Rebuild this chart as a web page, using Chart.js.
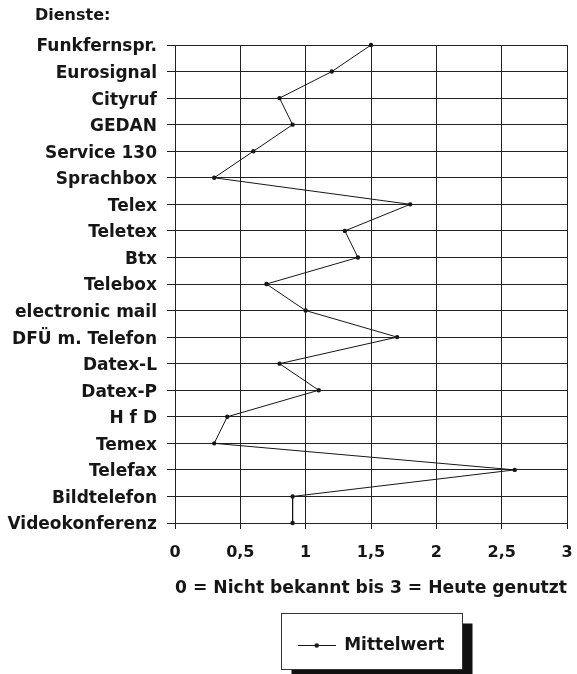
<!DOCTYPE html>
<html lang="de">
<head>
<meta charset="utf-8">
<title>Dienste</title>
<script src="https://cdn.jsdelivr.net/npm/chart.js@4.4.1/dist/chart.umd.min.js"></script>
<style>
    html, body { margin: 0; padding: 0; background: #fff; }
    #chart { display: block; }
</style>
</head>
<body>
<canvas id="chart" width="577" height="674"></canvas>
<script>
// Daten
const dienste = ['Funkfernspr.', 'Eurosignal', 'Cityruf', 'GEDAN', 'Service 130', 'Sprachbox', 'Telex', 'Teletex', 'Btx', 'Telebox',
    'electronic mail', 'DFÜ m. Telefon', 'Datex-L', 'Datex-P', 'H f D', 'Temex', 'Telefax', 'Bildtelefon', 'Videokonferenz'];
const mittelwert = [1.5, 1.2, 0.8, 0.9, 0.6, 0.3, 1.8, 1.3, 1.4, 0.7, 1.0, 1.7, 0.8, 1.1, 0.4, 0.3, 2.6, 0.9, 0.9];
const skala = [0, 0.5, 1, 1.5, 2, 2.5, 3];

const schrift = 'DejaVu Sans';
const tinte = '#161616';

// Legendensymbol: Linie mit Punkt
function legendenSymbol() {
    const c = document.createElement('canvas');
    c.width = 38; c.height = 7;
    const g = c.getContext('2d');
    g.strokeStyle = tinte; g.lineWidth = 1;
    g.beginPath(); g.moveTo(0, 3.5); g.lineTo(38, 3.5); g.stroke();
    g.fillStyle = tinte;
    g.beginPath(); g.arc(19, 3.5, 2.2, 0, Math.PI * 2); g.fill();
    return c;
}

// Überschrift links oben
const ueberschrift = {
    id: 'ueberschrift',
    afterDraw(chart) {
        const ctx = chart.ctx;
        ctx.save();
        ctx.font = `bold 16px "${schrift}"`;
        ctx.fillStyle = tinte;
        ctx.textBaseline = 'middle';
        ctx.fillText('Dienste:', 35, 16);
        ctx.restore();
    }
};

// Rahmen mit Schatten um die Legende
const legendenRahmen = {
    id: 'legendenRahmen',
    beforeDraw(chart) {
        const hb = chart.legend && chart.legend.legendHitBoxes[0];
        if (!hb) return;
        const ctx = chart.ctx;
        const cx = hb.left + hb.width / 2;
        const cy = hb.top + hb.height / 2;
        const w = 181, h = 56;
        const x = Math.round(cx - w / 2) + 0.5, y = Math.round(cy - h / 2 - 5) + 0.5;
        ctx.save();
        ctx.fillStyle = '#111';
        ctx.fillRect(x + 10, y + 10, w, h);
        ctx.fillStyle = '#fff';
        ctx.fillRect(x, y, w, h);
        ctx.strokeStyle = '#333';
        ctx.lineWidth = 1;
        ctx.strokeRect(x, y, w, h);
        ctx.restore();
    }
};

new Chart(document.getElementById('chart'), {
    type: 'line',
    data: {
        labels: dienste,
        datasets: [{
            label: 'Mittelwert',
            data: mittelwert,
            borderColor: tinte,
            backgroundColor: tinte,
            borderWidth: 1,
            pointRadius: 2.2,
            pointBackgroundColor: tinte,
            pointBorderWidth: 0,
            tension: 0
        }]
    },
    options: {
        indexAxis: 'y',
        responsive: false,
        devicePixelRatio: 1,
        animation: false,
        layout: { padding: { top: 45, left: 7, right: 10, bottom: 10 } },
        scales: {
            y: {
                type: 'category',
                offset: false,
                grid: { color: '#222', lineWidth: 1, tickLength: 8 },
                border: { color: '#222' },
                ticks: {
                    color: tinte,
                    font: { family: schrift, size: 17, weight: 'bold' },
                    padding: 10,
                    labelOffset: 2,
                    autoSkip: false
                },
                afterFit(scale) { scale.width = 168; }
            },
            x: {
                type: 'linear',
                min: 0,
                max: 3,
                afterBuildTicks(scale) { scale.ticks = skala.map(v => ({ value: v })); },
                grid: { color: '#222', lineWidth: 1, tickLength: 6 },
                border: { color: '#222' },
                ticks: {
                    color: tinte,
                    font: { family: schrift, size: 16, weight: 'bold' },
                    padding: 14,
                    maxRotation: 0,
                    callback: v => String(v).replace('.', ',')
                },
                title: {
                    display: true,
                    text: '0 = Nicht bekannt bis 3 = Heute genutzt',
                    color: tinte,
                    font: { family: schrift, size: 18, weight: 'bold' },
                    padding: { top: 14, bottom: 14 }
                },
                afterFit(scale) {
                    scale.height = 90;
                    scale.paddingLeft = 0;
                    scale.paddingRight = 0;
                }
            }
        },
        plugins: {
            legend: {
                position: 'bottom',
                fullSize: false,
                labels: {
                    usePointStyle: true,
                    pointStyle: legendenSymbol(),
                    pointStyleWidth: 38,
                    color: tinte,
                    font: { family: schrift, size: 17, weight: 'bold' },
                    padding: 24
                }
            },
            tooltip: { enabled: false }
        }
    },
    plugins: [ueberschrift, legendenRahmen]
});
</script>
</body>
</html>
